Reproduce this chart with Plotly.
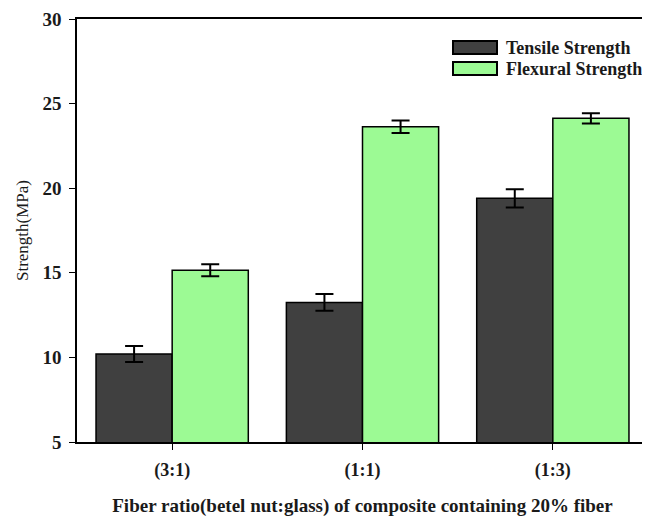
import plotly.graph_objects as go

# values
ratios = ["(3:1)", "(1:1)", "(1:3)"]
tensile = [10.2, 13.25, 19.4]
tensile_err = [0.47, 0.49, 0.54]
flexural = [15.15, 23.63, 24.13]
flexural_err = [0.35, 0.37, 0.30]

FONT = "Liberation Serif"
DARK = "#404040"
GREEN = "#9cfa94"
INK = "#1a1a1a"

# page body has an 8px margin, so the figure is drawn 8px smaller and shifted
fig = go.Figure()
fig.add_trace(go.Bar(x=ratios, y=tensile, name="Tensile Strength", marker_color=DARK,
                     marker_line=dict(color="black", width=1.5),
                     error_y=dict(type="data", array=tensile_err, color="black", thickness=2, width=9)))
fig.add_trace(go.Bar(x=ratios, y=flexural, name="Flexural Strength", marker_color=GREEN,
                     marker_line=dict(color="black", width=1.5),
                     error_y=dict(type="data", array=flexural_err, color="black", thickness=2, width=9)))

# legend drawn by hand so the swatches are wide rectangles
legend_items = [("Tensile Strength", DARK), ("Flexural Strength", GREEN)]
for i, (label, color) in enumerate(legend_items):
    y0 = 41 + i * 21
    fig.add_shape(type="rect", xref="paper", yref="paper",
                  x0=(453 - 77) / 571, x1=(497 - 77) / 571,
                  y0=1 - (y0 + 13 - 19) / 423, y1=1 - (y0 - 19) / 423,
                  fillcolor=color, line=dict(color="black", width=2))
    fig.add_annotation(text=f"<b>{label}</b>", xref="paper", yref="paper",
                       x=(504 - 77) / 571, y=1 - (y0 + 6.5 - 19) / 423,
                       xanchor="left", yanchor="middle", showarrow=False,
                       font=dict(family=FONT, size=18, color=INK))

fig.update_layout(
    width=642, height=509,
    margin=dict(l=69, r=2, t=11, b=75),
    barmode="group", bargap=0.2, bargroupgap=0,
    showlegend=False,
    plot_bgcolor="white", paper_bgcolor="white",
    font=dict(family=FONT, color=INK),
)
fig.update_xaxes(
    range=[-0.5, 2.5], showline=True, linecolor="black", linewidth=1.5, mirror=True,
    ticks="outside", ticklen=6, tickcolor="black", automargin=False, ticklabelstandoff=5,
    tickfont=dict(family=FONT, size=18, weight="bold"),
    title=dict(text="<b>Fiber ratio(betel nut:glass) of composite containing 20% fiber</b>",
               font=dict(family=FONT, size=19), standoff=21),
)
fig.update_yaxes(
    range=[5, 30], dtick=5, showline=True, linecolor="black", linewidth=1.5, mirror=True,
    ticks="outside", ticklen=6, tickcolor="black", showgrid=False, zeroline=False,
    automargin=False, ticklabelstandoff=4,
    tickfont=dict(family=FONT, size=19, weight="bold"),
    title=dict(text="Strength(MPa)", font=dict(family=FONT, size=17), standoff=10),
)

fig.write_html("out.html")
